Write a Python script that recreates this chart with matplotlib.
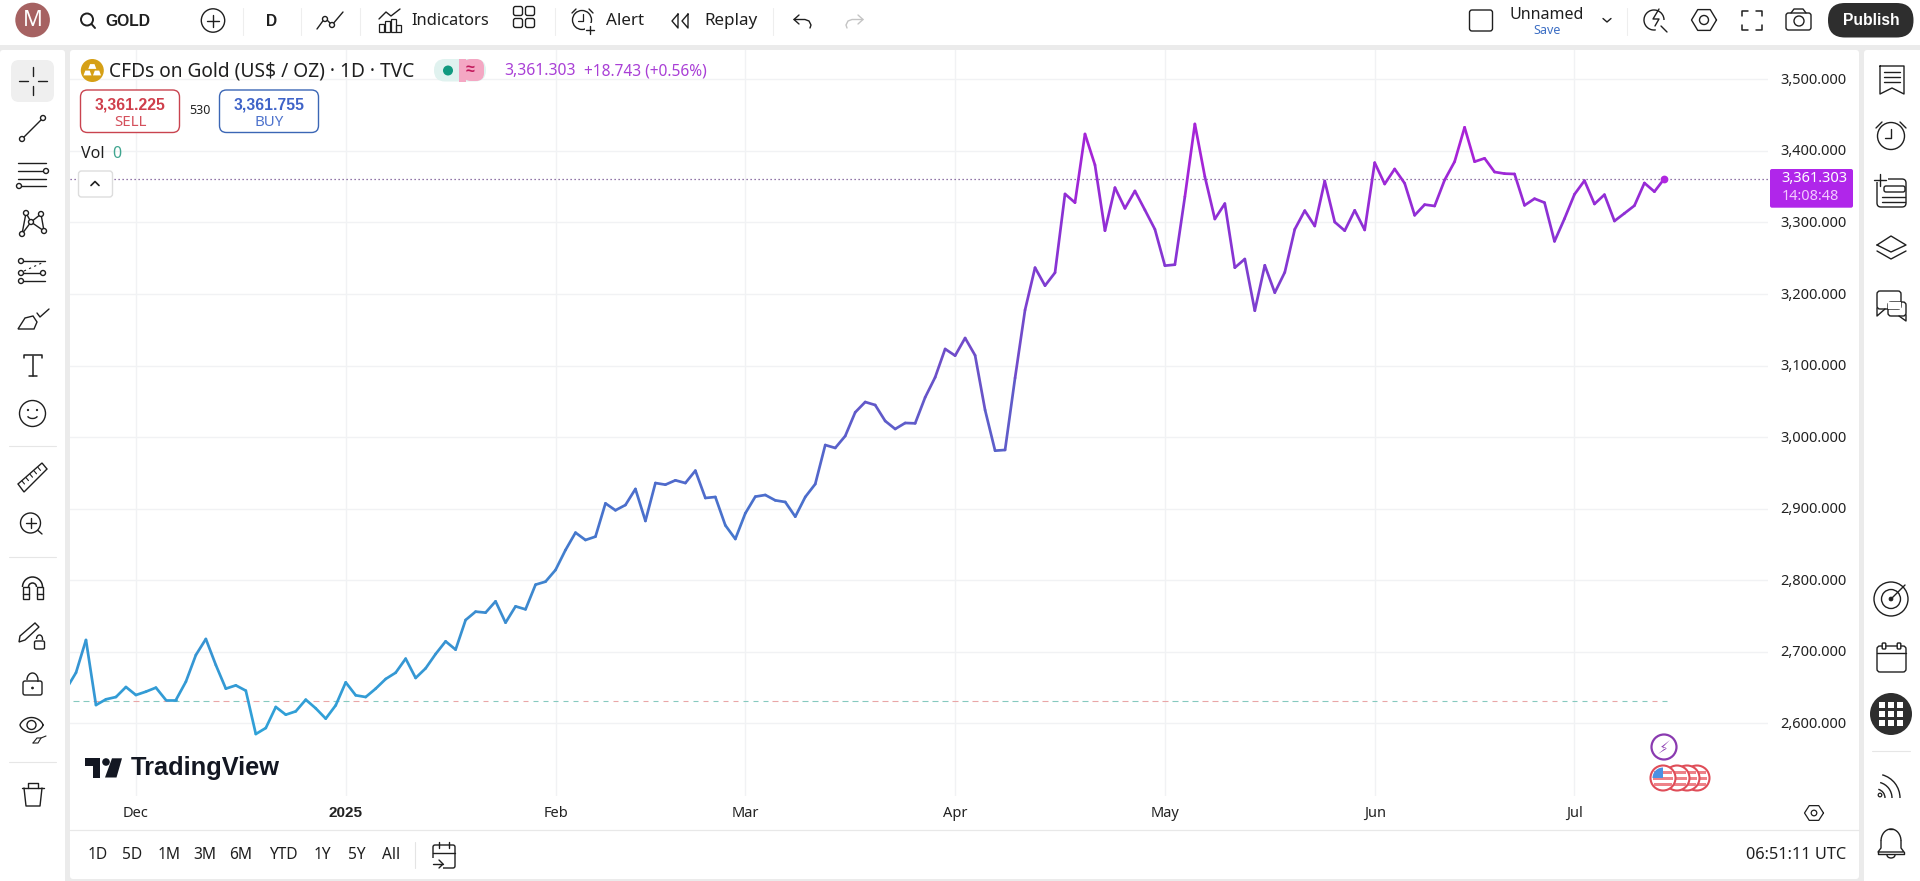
import numpy as np
import matplotlib
matplotlib.use("Agg")
import matplotlib.pyplot as plt
from matplotlib.collections import LineCollection
from matplotlib.colors import LinearSegmentedColormap, Normalize
from matplotlib.patches import Circle, Rectangle, FancyBboxPatch, Polygon, Wedge, Arc
from matplotlib.transforms import ScaledTranslation

plt.rcParams['font.family'] = ['Noto Sans', 'DejaVu Sans']

# ---------- data ----------
closes = [
    2647.6, 2670.9, 2716.6, 2625.7, 2633.7, 2636.9, 2650.9, 2639.7, 2644.4, 2650.0,
    2632.7, 2632.7, 2658.3, 2695.6, 2718.0, 2681.6, 2648.6, 2653.2, 2645.8, 2585.2,
    2593.6, 2623.0, 2612.2, 2616.9, 2633.2, 2621.1, 2606.7, 2625.3, 2657.4, 2639.3,
    2636.9, 2648.6, 2662.1, 2670.9, 2690.5, 2663.5, 2677.0, 2697.0, 2714.7, 2703.1,
    2744.5, 2756.2, 2754.8, 2770.6, 2740.8, 2763.6, 2759.4, 2793.9, 2798.1, 2814.4,
    2842.3, 2866.6, 2856.3, 2861.0, 2907.5, 2897.8, 2905.2, 2927.6, 2882.9, 2935.9,
    2933.6, 2939.7, 2935.9, 2953.2, 2915.0, 2916.4, 2876.8, 2857.7, 2893.6, 2916.9,
    2919.2, 2911.7, 2909.4, 2888.9, 2916.4, 2934.5, 2989.0, 2984.9, 3001.6, 3034.7,
    3049.1, 3044.9, 3022.6, 3011.4, 3019.8, 3019.3, 3055.6, 3083.6, 3123.2, 3113.9,
    3138.5, 3114.3, 3037.9, 2981.1, 2982.1, 3082.7, 3177.7, 3236.8, 3211.7, 3229.8,
    3339.8, 3327.7, 3423.6, 3380.3, 3288.5, 3348.6, 3319.7, 3344.0, 3317.4, 3290.4,
    3239.6, 3241.0, 3336.0, 3437.6, 3364.0, 3304.8, 3326.3, 3236.8, 3248.9, 3176.7,
    3240.1, 3201.9, 3230.3, 3290.4, 3316.5, 3295.0, 3357.9, 3300.6, 3288.5, 3316.9,
    3289.5, 3383.5, 3353.7, 3374.7, 3354.7, 3310.0, 3324.9, 3323.0, 3359.3, 3384.9,
    3432.9, 3384.9, 3389.6, 3370.5, 3368.2, 3367.7, 3323.9, 3333.2, 3327.7, 3273.6,
    3305.3, 3339.3, 3358.4, 3325.8, 3338.8, 3302.0, 3312.7, 3323.5, 3355.1, 3343.0,
    3361.303,
]
month_bars = [7, 28, 49, 68, 89, 110, 131, 151]
month_labels = ['Dec', '2025', 'Feb', 'Mar', 'Apr', 'May', 'Jun', 'Jul']
price_ticks = [2600, 2700, 2800, 2900, 3000, 3100, 3200, 3300, 3400, 3500]
baseline = 2630.9
ranges = ['1D', '5D', '1M', '3M', '6M', 'YTD', '1Y', '5Y', 'All']

W, H = 1920, 881
fig = plt.figure(figsize=(W / 100, H / 100), dpi=100, facecolor='#ebebeb')

def px(pixels):
    return pixels * 0.72

# ---------- background layer ----------
bg = fig.add_axes([0, 0, 1, 1], zorder=0)
bg.set_xlim(0, W); bg.set_ylim(H, 0); bg.axis('off')
def panel(x0, y0, x1, y1, r=3, color='white'):
    bg.add_patch(FancyBboxPatch((x0 + r, y0 + r), x1 - x0 - 2 * r, y1 - y0 - 2 * r,
                                boxstyle=f"round,pad={r},rounding_size={r}", fc=color, ec='none'))
bg.add_patch(Rectangle((0, 0), W, 45, fc='white', ec='none'))
panel(0, 50, 65, H + 8)
panel(70, 50, 1859, 879)
panel(1864, 50, W + 8, H + 8)

# ---------- chart ----------
X0, XSTEP = 66.0, 9.99
AL, AR, AT, AB = 70, 1768, 50, 796
PX_PER_UNIT = 0.7157
Y3500 = 79.3
ax = fig.add_axes([AL / W, 1 - AB / H, (AR - AL) / W, (AB - AT) / H], zorder=1)
ax.patch.set_alpha(0)
ax.set_xlim((AL - X0) / XSTEP, (AR - X0) / XSTEP)
ax.set_ylim(3500 - (AB - Y3500) / PX_PER_UNIT, 3500 + (Y3500 - AT) / PX_PER_UNIT)
for s in ax.spines.values():
    s.set_visible(False)
ax.grid(True, color='#f1f2f4', lw=1.0)
ax.set_axisbelow(True)
ax.set_yticks(price_ticks)
ax.set_yticklabels([f'{v:,.3f}' for v in price_ticks], fontsize=px(14.6), color='#222222', va='center')
ax.yaxis.tick_right()
ax.tick_params(axis='y', length=0, pad=px(12))
nudge = ScaledTranslation(0, -1.0 / 100, fig.dpi_scale_trans)
for lab in ax.get_yticklabels():
    lab.set_transform(lab.get_transform() + nudge)
ax.set_xticks(month_bars)
ax.set_xticklabels(month_labels, fontsize=px(14.6), color='#222222')
ax.tick_params(axis='x', length=0, pad=px(10))
for lab in ax.get_xticklabels():
    if lab.get_text() == '2025':
        lab.set_fontfamily('Liberation Sans')
        lab.set_fontweight('bold')
        lab.set_fontsize(px(15.3))

idx = np.arange(len(closes))
vals = np.array(closes)
cmap = LinearSegmentedColormap.from_list('gold', [
    (0.00, '#2fa3d8'), (0.19, '#3a8ed0'), (0.37, '#4a70cc'), (0.60, '#6c50c8'),
    (0.83, '#8a32d4'), (1.00, '#b01fd8')])
norm = Normalize(2585, 3440)

# up/down baseline dashes
dash_segs = [[(i - 0.28, baseline), (i + 0.28, baseline)] for i in idx]
dash_cols = ['#e9a6a6' if i > 0 and vals[i] < vals[i - 1] else '#86c9bf' for i in idx]
ax.add_collection(LineCollection(dash_segs, colors=dash_cols, linewidths=0.8, zorder=2))

ax.axhline(closes[-1], color='#6e4a8c', lw=0.9, ls=(0, (1, 2.2)), zorder=2)

segs = np.stack([np.column_stack([idx[:-1], vals[:-1]]),
                 np.column_stack([idx[1:], vals[1:]])], axis=1)
lc = LineCollection(segs, cmap=cmap, norm=norm, linewidths=1.95, capstyle='round', zorder=3)
lc.set_array((vals[:-1] + vals[1:]) / 2)
ax.add_collection(lc)
ax.plot(idx[-1], vals[-1], 'o', ms=5.6, color='#b026e0', mec='none', zorder=4)

# ---------- interface layer ----------
ui = fig.add_axes([0, 0, 1, 1], zorder=2)
ui.set_xlim(0, W); ui.set_ylim(H, 0); ui.axis('off'); ui.patch.set_alpha(0)
INK = '#1f1f1f'
def L(pts, lw=1.0, c=INK, z=2, **k):
    p = np.array(pts, float)
    ui.plot(p[:, 0], p[:, 1], color=c, lw=lw, solid_capstyle='round', zorder=z, **k)
def C(x, y, r, lw=1.0, ec=INK, fc='white', z=3):
    ui.add_patch(Circle((x, y), r, fc=fc, ec=ec, lw=lw, zorder=z))
def R(x0, y0, x1, y1, r=2, ec=INK, fc='none', lw=1.0, z=2):
    ui.add_patch(FancyBboxPatch((x0 + r, y0 + r), x1 - x0 - 2 * r, y1 - y0 - 2 * r,
                                boxstyle=f"round,pad={r},rounding_size={r}", fc=fc, ec=ec, lw=lw, zorder=z))
def T(x, y, s, size=15, c='#1f1f1f', ha='left', z=6):
    ui.text(x, y, s, fontsize=px(size), color=c, ha=ha, va='center', zorder=z)
def B(x, y, s, size=15, c='#1f1f1f', ha='left', z=6):
    ui.text(x, y, s, fontsize=px(size), color=c, ha=ha, va='center', zorder=z,
            family='Liberation Sans', fontweight='bold')

# top bar
C(32.6, 20, 17.3, lw=0, ec='none', fc='#a66262')
T(32.6, 20, 'M', 22, 'white', 'center')
C(87, 19.5, 6, lw=1.4); L([(91.5, 24), (95, 28)], 1.4)
B(105, 21, 'GOLD', 15.6)
C(213, 20.5, 11.7); L([(213, 14.5), (213, 26.5)], z=4); L([(207, 20.5), (219, 20.5)], z=4)
B(272, 21, 'D', 15.5, ha='center')
for sx in [243, 300.5, 360, 555, 773]:
    L([(sx, 8), (sx, 35)], 0.8, '#eeeeee')
L([(317, 29), (325, 18), (332, 25), (343, 12)]); C(325, 19, 2.5); C(332, 25, 2.5)
L([(379, 19), (386, 12), (391, 16), (400, 9)])
for bx, bt in [(379, 24), (385, 21), (391, 19), (396, 25)]:
    ui.add_patch(Rectangle((bx, bt), 4.5, 32 - bt, fc='none', ec=INK, lw=0.9))
T(411, 21, 'Indicators', 16.5)
for gx, gy in [(518, 11), (530, 11), (518, 23), (530, 23)]:
    R(gx - 4.5, gy - 4.5 + 0, gx + 4.5, gy + 4.5, 2)
C(582, 20, 9.5, z=2); L([(583, 14), (583, 21), (578, 21)], .9)
L([(572, 13), (576, 9)]); L([(589, 9), (593, 13)])
ui.add_patch(Rectangle((585, 23), 11, 12, fc='white', ec='none', zorder=2.5))
L([(590, 26), (590, 34)], z=4); L([(586, 30), (594, 30)], z=4)
T(606, 21, 'Alert', 17)
L([(678, 14), (672, 21), (678, 28), (678, 14)]); L([(688, 14), (682, 21), (688, 28), (688, 14)])
T(704, 21, 'Replay', 17)
L([(799, 15), (794, 19.5), (799, 24)]); L([(794, 19.5), (805, 19.5), (809, 21), (811, 25), (810, 28)])
L([(858, 15), (863, 19.5), (858, 24)], c='#c4c4c4'); L([(863, 19.5), (852, 19.5), (848, 21), (846, 25), (847, 28)], c='#c4c4c4')

R(1469.5, 10, 1492.5, 31, 2.5)
T(1547, 15, 'Unnamed', 16, ha='center')
T(1547, 30.5, 'Save', 12.5, '#3d6fc4', 'center')
L([(1603, 18.5), (1607, 22), (1611, 18.5)])
L([(1627, 8), (1627, 35)], 0.8, '#eeeeee')
ui.add_patch(Arc((1654, 20), 20, 20, theta1=80, theta2=360, ec=INK, lw=1))
L([(1661, 26), (1667, 32)]); L([(1659, 9), (1653, 19), (1659, 19), (1655, 26)])
hexa = np.array([(1704 + 12.5 * np.cos(a), 20 + 12 * np.sin(a)) for a in np.deg2rad(np.arange(0, 361, 60))])
L(hexa); C(1704, 20, 4.5)
for fx, fy, dx, dy in [(1742, 16, 1, -1), (1762, 16, -1, -1), (1742, 25, 1, 1), (1762, 25, -1, 1)]:
    L([(fx, fy), (fx, fy + dy * 5), (fx + dx * 6, fy + dy * 5)], 1.1)
R(1786, 13, 1811, 30, 2.5); L([(1791, 13), (1794, 9), (1803, 9), (1806, 13)]); C(1799, 21, 5)
R(1828, 3, 1913.5, 37.5, 17, ec='none', fc='#2e2e2e')
B(1871, 20.5, 'Publish', 15.6, 'white', 'center')

# legend
C(92.3, 70.5, 11.5, lw=0, ec='none', fc='#d6a016')
for tx, ty in [(92.3, 66.5), (87.5, 73), (97, 73)]:
    ui.add_patch(Polygon([(tx - 4, ty + 2.4), (tx - 2.2, ty - 2.4), (tx + 2.2, ty - 2.4), (tx + 4, ty + 2.4)], fc='white', ec='none', zorder=4))
T(109, 71, 'CFDs on Gold (US$ / OZ) · 1D · TVC', 19.2)
R(434, 59, 486, 81.5, 11, ec='none', fc='#e0f2ef')
ui.add_patch(FancyBboxPatch((466, 62), 15, 16, boxstyle='round,pad=3,rounding_size=8', fc='#f4a7c3', ec='none', zorder=2.2))
ui.add_patch(Rectangle((459, 59), 7, 22.5, fc='#f4a7c3', ec='none', zorder=2.3))
C(448, 70.5, 5, lw=0, ec='none', fc='#11997f')
B(470.5, 70, '≈', 16, '#c2185b', 'center')
T(504.5, 71, '3,361.303', 15.7, '#a93fd6')
T(584, 71, '+18.743 (+0.56%)', 15.5, '#a93fd6')
R(80.5, 90, 179.5, 132.5, 7, ec='#c9434f', fc='white', z=5)
B(130, 104.5, '3,361.225', 15.8, '#cf3f4c', 'center', z=6)
T(130, 122, 'SELL', 15, '#d4505c', 'center', z=6)
T(199.5, 110.5, '530', 12.5, '#222222', 'center')
R(219.5, 90, 318.5, 132.5, 7, ec='#3b66b5', fc='white', z=5)
B(269, 104.5, '3,361.755', 15.8, '#3f63c8', 'center', z=6)
T(269, 122, 'BUY', 15, '#4d72cc', 'center', z=6)
T(81, 154, 'Vol', 16)
T(112.5, 154, '0', 16, '#3fa58f')
R(78.5, 171, 112.5, 197, 3, ec='#dddddd', fc='white', z=5)
L([(91, 185.5), (95, 181.5), (99, 185.5)], 1.2, z=6)

# price label
R(1770, 169, 1853, 207.7, 2, ec='none', fc='#b026ea', z=5)
T(1847, 179, '3,361.303', 14.6, 'white', 'right', z=6)
T(1839, 197, '14:08:48', 14.5, '#f3c9ff', 'right', z=6)

# left toolbar
R(11, 60, 54, 102, 8, ec='none', fc='#efefef', z=1)
L([(33, 67), (33, 76)]); L([(33, 86), (33, 95)]); L([(19, 81), (28, 81)]); L([(38, 81), (47, 81)])
L([(22, 139), (43, 118)]); C(22, 139, 2.5); C(43, 118, 2.5)
for fy in [163, 171, 178.5, 186]:
    L([(18, fy), (46, fy)])
C(46, 171, 2.5); C(19, 186, 2.5)
pat = [(22, 234), (26, 213), (31, 222), (41, 214), (44, 231), (31, 222), (22, 234)]
L(pat)
for p in pat[:5]:
    C(p[0], p[1], 2.5)
for fy, x1 in [(261, 45), (273, 43), (281, 45)]:
    L([(21, fy), (x1, fy)]); C(21, fy, 2.5)
C(43, 273, 2.5); L([(24, 271), (44, 262)], .8, ls=(0, (2, 3)))
ui.add_patch(Polygon([(18, 329), (25, 318), (33, 316), (37, 322), (34, 329)], fc='none', ec=INK, lw=1))
L([(37, 313), (40, 317), (49, 309)])
L([(33, 356), (33, 376)], 1.1); L([(24, 358), (24, 355), (42, 355), (42, 358)], 1.1); L([(29, 376), (37, 376)], 1.1)
C(32.5, 413.5, 13); C(28, 410, .7, lw=.6, fc=INK, z=4); C(37, 410, .7, lw=.6, fc=INK, z=4)
ui.add_patch(Arc((32.5, 414.5), 11, 8, theta1=20, theta2=160, ec=INK, lw=1, zorder=4))
ui.add_patch(Polygon([(18, 484), (42, 463), (47, 469), (24, 492)], fc='none', ec=INK, lw=1))
for k in range(5):
    L([(22 + k * 4, 481 - k * 3.4), (24.5 + k * 4, 484 - k * 3.4)], .8)
C(30.5, 523, 10); L([(37.5, 530), (42, 534)]); L([(30.5, 518), (30.5, 528)], z=4); L([(25.5, 523), (35.5, 523)], z=4)
for sy in [445.7, 556.7, 762]:
    L([(9, sy), (56, sy)], .8, '#e6e6e6')
ui.add_patch(Arc((32.5, 587), 20, 20, theta1=180, theta2=360, ec=INK, lw=1.1))
ui.add_patch(Arc((32.5, 587), 8, 8, theta1=180, theta2=360, ec=INK, lw=1.1))
for mx in [(22.5, 28.5), (36.5, 42.5)]:
    ui.add_patch(Rectangle((mx[0], 587), 6, 12, fc='none', ec=INK, lw=1)); L([(mx[0], 594), (mx[1], 594)])
ui.add_patch(Polygon([(19, 642), (20, 636), (35, 623), (39, 627), (25, 640)], fc='none', ec=INK, lw=1))
R(34.5, 641, 44.5, 649, 1.5); ui.add_patch(Arc((39.5, 639), 6, 8, theta1=180, theta2=20, ec=INK, lw=1))
R(23, 681, 42, 695, 2); C(32.5, 688, 1, lw=.5, fc=INK); ui.add_patch(Arc((32.5, 680), 11, 14, theta1=180, theta2=20, ec=INK, lw=1))
th = np.linspace(0, 2 * np.pi, 41)
L(np.column_stack([31.5 + 11.5 * np.cos(th), 725 + 7.5 * np.sign(np.sin(th)) * np.abs(np.sin(th))**1.4]))
C(31.5, 725, 4.5)
L([(33, 743), (38, 743), (41, 738), (46, 736)], .8); L([(33, 743), (37, 738), (41, 738)], .8)
L([(22, 788), (44, 788)]); L([(24, 788), (26, 806), (40, 806), (42, 788)]); L([(28, 788), (28, 783), (38, 783), (38, 788)])

# logo
ui.add_patch(Polygon([(85, 758.3), (100, 758.3), (100, 777.5), (93, 777.5), (93, 766), (85, 766)], fc='#131722', ec='none'))
ui.add_patch(Circle((106, 762), 3.8, fc='#131722', ec='none'))
ui.add_patch(Polygon([(112, 758.3), (122, 758.3), (116.5, 777.5), (105, 777.5)], fc='#131722', ec='none'))
B(131, 768, 'TradingView', 25.4, '#131722')

# bottom bar
L([(70, 830), (1859, 830)], .9, '#e8e8e8')
for rx, rl in zip([97.4, 132, 169, 205, 241, 283, 322.4, 356.6, 391], ranges):
    T(rx, 855, rl, 15.5, ha='center')
L([(415, 842), (415, 868)], .8, '#e4e4e4')
R(433, 845, 455, 868, 2); ui.add_patch(Rectangle((431, 858), 12, 12, fc='white', ec='none', zorder=2.5))
L([(433, 853), (455, 853)], z=4); L([(439, 842), (439, 848)], z=4); L([(449, 842), (449, 848)], z=4)
L([(433, 864), (443, 864)], z=4); L([(439, 860), (443, 864), (439, 868)], z=4)
T(1846, 855, '06:51:11 UTC', 16.4, ha='right')
hexb = np.array([(1814 + 9.5 * np.cos(a), 813 + 8.5 * np.sin(a)) for a in np.deg2rad(np.arange(0, 361, 60))])
L(hexb, .9); C(1814, 813, 2.8, lw=.9)

# events
C(1664, 747, 12.5, lw=1.6, ec='#8a3ab0')
ui.add_patch(Polygon([(1670, 740), (1661, 747), (1666, 747.5), (1658, 754), (1667, 748.5), (1662, 748)], fc='#8a3ab0', ec='none', zorder=4))
for n_, fxx in enumerate([1697, 1687, 1677, 1663]):
    zb = 3 + n_ * 0.1
    ui.add_patch(Circle((fxx, 778), 12.5, fc='white', ec='#df4d58', lw=1.5, zorder=zb))
    for sy, sh in [(770.5, 3.3), (776.5, 3.3), (782.5, 3.3)]:
        half = np.sqrt(max(0, 10.5**2 - (sy + sh / 2 - 778)**2))
        ui.add_patch(Rectangle((fxx - half, sy), 2 * half, sh, fc='#ee8289', ec='none', zorder=zb + 0.01))
ui.add_patch(Wedge((1663, 778), 10.5, 180, 270, fc='#4a90e2', ec='none', zorder=3.5))

# right toolbar
L([(1880, 66), (1904, 66), (1904, 94), (1892, 88), (1880, 94), (1880, 66)])
for ly in [72, 77, 82]:
    L([(1884, ly), (1900, ly)])
C(1891, 136, 13.5); L([(1891, 129), (1891, 138), (1885, 138)], z=4); L([(1876, 128), (1882, 122)]); L([(1900, 122), (1906, 128)])
R(1877, 179, 1906, 207, 4); ui.add_patch(Rectangle((1872, 172), 16, 10, fc='white', ec='none', zorder=2.5))
L([(1880, 174), (1880, 186)], z=4); L([(1874, 180), (1886, 180)], z=4)
R(1884, 186, 1905, 192, 2, z=4)
for ly in [197, 202]:
    L([(1882, ly), (1905, ly)])
L([(1877, 245), (1891, 236), (1906, 245), (1891, 252), (1877, 245)]); L([(1877, 251), (1891, 259), (1906, 251)])
R(1877, 291, 1901, 309, 3)
L([(1877, 308), (1877, 316), (1885, 309)])
R(1888, 302, 1906, 316, 3, z=2)
ui.add_patch(Rectangle((1888, 302), 12.5, 6.5, fc='white', ec='none', zorder=2.5))
L([(1906, 315), (1906, 321), (1899, 316)])
C(1891, 599, 17); C(1891, 599, 9.5, z=3.1); C(1891, 599, 2, lw=.5, fc=INK, z=4); L([(1891, 599), (1905, 585)], z=4)
R(1877, 646, 1906, 672, 3); L([(1877, 653), (1906, 653)])
for cx in [1884, 1899]:
    R(cx - 1.8, 643, cx + 1.8, 649, 1, fc='white', z=3)
C(1891, 714, 21, lw=0, ec='none', fc='#2e2e2e')
for dx_ in [-9, 0, 9]:
    for dy_ in [-9, 0, 9]:
        ui.add_patch(Rectangle((1891 + dx_ - 3, 714 + dy_ - 2.8), 6, 5.6, fc='white', ec='none', zorder=4))
L([(1872, 750.5), (1910, 750.5)], .8, '#e6e6e6')
C(1880, 795, 1.8, lw=.9)
for rr in [9, 16, 24]:
    ui.add_patch(Arc((1876, 798), 2 * rr, 2 * rr, theta1=285, theta2=360, ec=INK, lw=1))
ui.add_patch(Arc((1891, 841), 20, 24, theta1=180, theta2=360, ec=INK, lw=1))
L([(1881, 841), (1881, 848), (1878, 852), (1904, 852), (1901, 848), (1901, 841)])
L([(1878, 852), (1878, 854), (1904, 854), (1904, 852)])
ui.add_patch(Arc((1891, 855), 8, 6, theta1=0, theta2=180, ec=INK, lw=1))
L([(1889, 829), (1893, 829)])

fig.savefig('out.png', dpi=100, facecolor=fig.get_facecolor())
